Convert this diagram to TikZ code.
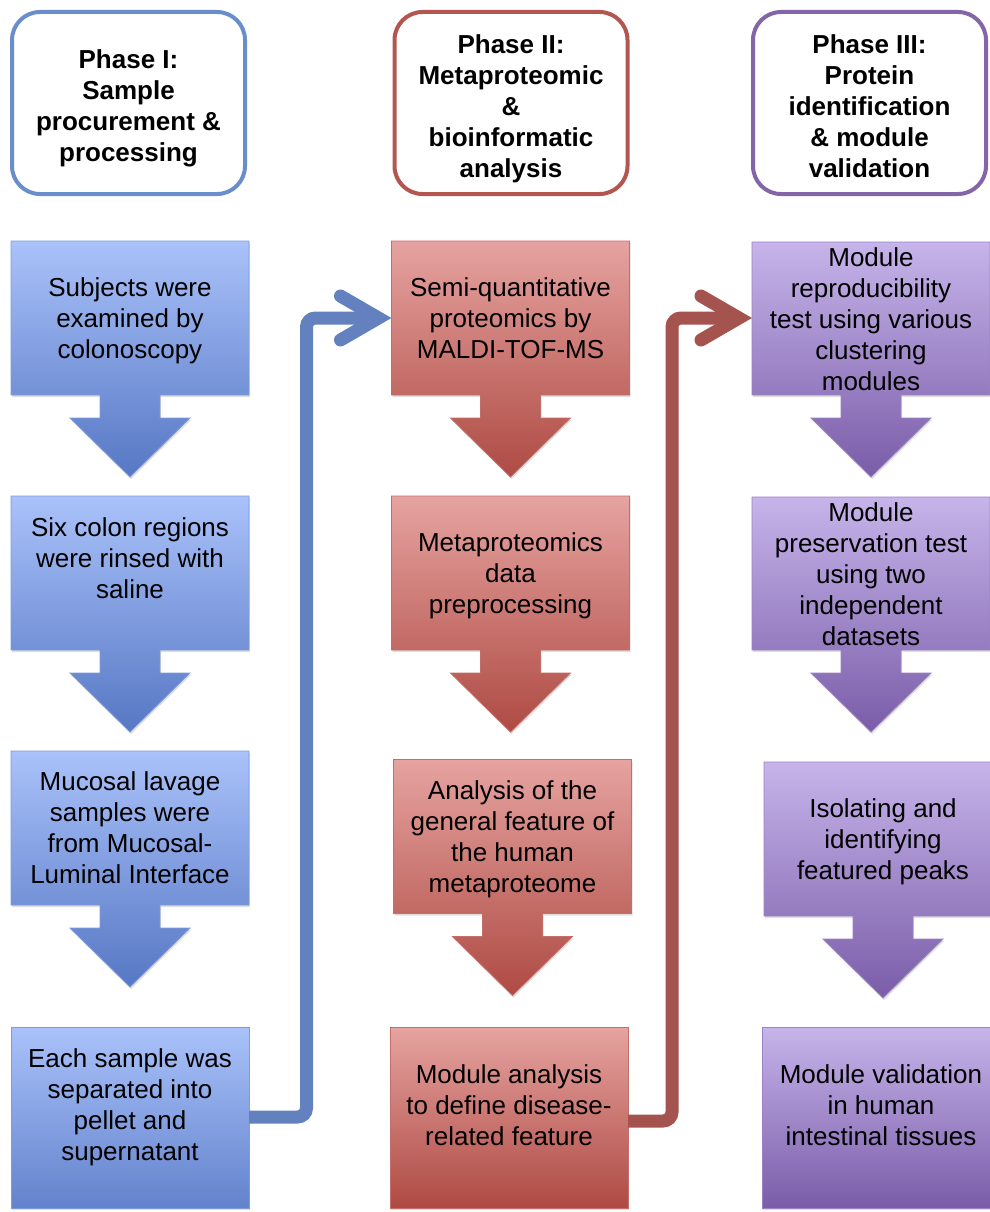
\documentclass[tikz,border=0pt]{standalone}
\usepackage{fontspec}
\setmainfont{Liberation Sans}
\usetikzlibrary{calc,shadows,backgrounds}

\definecolor{bTop}{HTML}{AAC2FA}
\definecolor{bBot}{HTML}{5677C4}
\definecolor{bEdge}{HTML}{7F9BD8}
\definecolor{bHead}{HTML}{6A8ECB}
\definecolor{bConn}{HTML}{6281BE}
\definecolor{rTop}{HTML}{E6A3A0}
\definecolor{rBot}{HTML}{AE4A43}
\definecolor{rEdge}{HTML}{C46E69}
\definecolor{rHead}{HTML}{B4554F}
\definecolor{rConn}{HTML}{A5534E}
\definecolor{pTop}{HTML}{C6B4EA}
\definecolor{pBot}{HTML}{7A5CA8}
\definecolor{pEdge}{HTML}{9A82C4}
\definecolor{pHead}{HTML}{8466A8}

% down-arrow callout drawn around a named box node
% #1 node, #2 extra box height below the node, #3 top colour, #4 bottom colour, #5 edge colour
\newcommand{\dcall}[5]{%
  \path[shapeshadow, top color=#3, bottom color=#4, draw=#5, line width=0.8pt]
    (#1.north west) -- (#1.north east) -- ($(#1.south east)+(0,#2)$)
    -- ($(#1.south)+(30,#2)$) -- ($(#1.south)+(30,#2+23)$) -- ($(#1.south)+(60,#2+23)$)
    -- ($(#1.south)+(0,#2+82)$)
    -- ($(#1.south)+(-60,#2+23)$) -- ($(#1.south)+(-30,#2+23)$) -- ($(#1.south)+(-30,#2)$)
    -- ($(#1.south west)+(0,#2)$) -- cycle;}
% last box: plain rectangle extending below its text node
\newcommand{\finalbox}[4]{%
  \path[shapeshadow, top color=#2, bottom color=#3, draw=#4, line width=0.8pt]
    (#1.north west) rectangle ($(#1.south east)+(0,25)$);}

\begin{document}
\begin{tikzpicture}[x=1pt,y=-1pt,
  txt/.style={inner sep=0pt, outer sep=0pt, align=center, text depth=0pt,
              font=\fontsize{26pt}{31pt}\selectfont},
  boxA/.style={txt, minimum width=238pt, minimum height=154pt},
  boxL/.style={txt, minimum width=238pt, minimum height=156pt},
  hdrbox/.style={inner sep=0pt, outer sep=0pt, rounded corners=28pt, line width=4pt,
              fill=white, minimum width=233pt, minimum height=182pt},
  hdrtxt/.style={txt, font=\fontsize{26pt}{31pt}\selectfont\bfseries},
  shapeshadow/.style={drop shadow={opacity=0.25, shadow xshift=1pt, shadow yshift=-2pt}},
  conn/.style={line width=13pt, draw=#1, rounded corners=9pt},
  chev/.style={line width=13pt, draw=#1, line cap=round, line join=miter},
]
\useasboundingbox (0,0) rectangle (989,1212);
\clip (0,0) rectangle (989,1212);

% headers
\node[hdrbox, draw=bHead] (h1) at (128.5,103) {};
\node[hdrbox, draw=rHead] (h2) at (511,103) {};
\node[hdrbox, draw=pHead] (h3) at (869.5,103) {};
\node[hdrtxt] (h1t) at (128.5,106) {Phase I:\\Sample\\procurement \&\\processing};
\node[hdrtxt] (h2t) at (511,106) {Phase II:\\Metaproteomic\\\&\\bioinformatic\\analysis};
\node[hdrtxt] (h3t) at (869.5,106) {Phase III:\\Protein\\identification\\\& module\\validation};

% column 1
\node[boxA] (b11) at (130,318) {Subjects were\\examined by\\colonoscopy};
\node[txt, minimum width=238pt, minimum height=124pt] (b12) at (130,558) {Six colon regions\\were rinsed with\\saline};
\node[boxA] (b13) at (130,828) {Mucosal lavage\\samples were\\from Mucosal-\\Luminal Interface};
\node[boxL] (b14) at (130,1105) {Each sample was\\separated into\\pellet and\\supernatant};

% column 2
\node[boxA] (b21) at (510.5,318) {Semi-quantitative\\proteomics by\\MALDI-TOF-MS};
\node[boxA] (b22) at (510.5,573) {Metaproteomics\\data\\preprocessing};
\node[boxA] (b23) at (512.5,836.5) {Analysis of the\\general feature of\\the human\\metaproteome};
\node[boxL] (b24) at (509,1105) {Module analysis\\to define disease-\\related feature};

% column 3
\node[boxA] (b31) at (871,319) {Module\\reproducibility\\test using various\\clustering\\modules};
\node[boxA] (b32) at (871,574) {Module\\preservation test\\using two\\independent\\datasets};
\node[boxA] (b33) at (883,839) {Isolating and\\identifying\\featured peaks};
\node[boxL] (b34) at (881,1105) {Module validation\\in human\\intestinal tissues};

\begin{scope}[on background layer]
  \fill[white] (0,0) rectangle (989,1212);
  \dcall{b11}{0}{bTop}{bBot}{bEdge}
  \dcall{b12}{30}{bTop}{bBot}{bEdge}
  \dcall{b13}{0}{bTop}{bBot}{bEdge}
  \finalbox{b14}{bTop}{bBot!85!bTop}{bEdge}
  \dcall{b21}{0}{rTop}{rBot}{rEdge}
  \dcall{b22}{0}{rTop}{rBot}{rEdge}
  \dcall{b23}{0}{rTop}{rBot}{rEdge}
  \finalbox{b24}{rTop}{rBot}{rEdge}
  \dcall{b31}{-1}{pTop}{pBot}{pEdge}
  \dcall{b32}{-1}{pTop}{pBot}{pEdge}
  \dcall{b33}{0}{pTop}{pBot}{pEdge}
  \finalbox{b34}{pTop}{pBot}{pEdge}
\end{scope}

% connectors between phases
\draw[conn=bConn] ($(b14.east)+(0,12)$) -| ($(b21.west)+(-85,0)$) -- ($(b21.west)+(-13,0)$);
\draw[chev=bConn] ($(b21.west)+(-51,-22)$) -- ($(b21.west)+(-13,0)$) -- ($(b21.west)+(-51,22)$);

\draw[conn=rConn] ($(b24.east)+(0,16)$) -| ($(b31.west)+(-80,-1)$) -- ($(b31.west)+(-13,-1)$);
\draw[chev=rConn] ($(b31.west)+(-51,-23)$) -- ($(b31.west)+(-13,-1)$) -- ($(b31.west)+(-51,21)$);
\end{tikzpicture}
\end{document}
